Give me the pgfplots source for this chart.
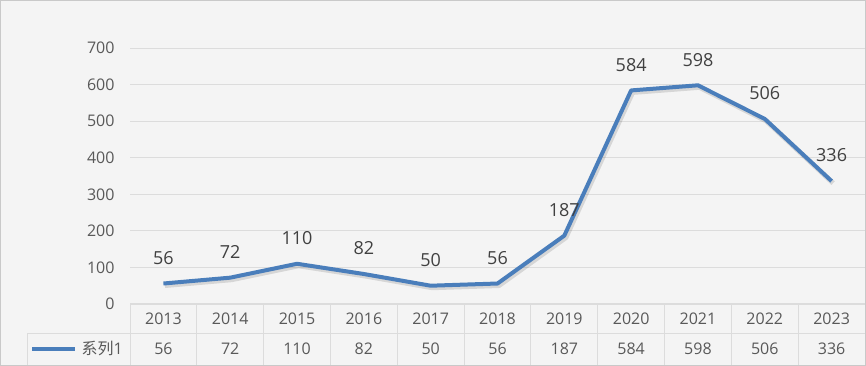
\documentclass[border=0pt]{standalone}
\usepackage{pgfplots}
\pgfplotsset{compat=1.18}
\usepackage{fontspec}
\setmainfont{Open Sans}
\newfontfamily\cjk{Noto Sans CJK SC}
\definecolor{bg}{HTML}{F4F4F4}
\definecolor{gridc}{HTML}{DCDCDC}
\definecolor{txt}{HTML}{595959}
\definecolor{lblue}{HTML}{4A7EBB}
\begin{document}
\begin{tikzpicture}[x=1pt,y=1pt]
\path[use as bounding box] (0,0) rectangle (866,366);
\fill[bg] (0,0) rectangle (866,366);
\begin{axis}[
  at={(130pt,62pt)}, anchor=south west,
  scale only axis, width=735pt, height=256pt,
  xmin=-0.5, xmax=10.5, ymin=0, ymax=700,
  ytick={0,100,...,700},
  xtick={0,...,10},
  xticklabels={2013,2014,2015,2016,2017,2018,2019,2020,2021,2022,2023},
  xticklabel style={anchor=center, yshift=-15pt, text=txt, font=\fontsize{16}{18}\selectfont},
  yticklabel style={text=txt, font=\fontsize{16}{18}\selectfont, xshift=-12pt},
  major tick length=0pt,
  ymajorgrids, grid style={gridc, line width=0.8pt},
  axis line style={draw=none},
  clip=false,
  /pgf/number format/assume math mode=true,
]
\addplot[black, opacity=0.12, line width=5pt, line join=round, mark=none, transform canvas={xshift=1.5pt,yshift=-2pt}] coordinates {
(0,56) (1,72) (2,110) (3,82) (4,50) (5,56) (6,187) (7,584) (8,598) (9,506) (10,336)};
\addplot[lblue, line width=4pt, line join=round, mark=none,
  nodes near coords,
  nodes near coords style={anchor=south, inner sep=0pt, yshift=17pt, text=black!75, font=\fontsize{18}{20}\selectfont}] coordinates {
(0,56) (1,72) (2,110) (3,82) (4,50) (5,56) (6,187) (7,584) (8,598) (9,506) (10,336)};
\end{axis}
% table lines
\pgfmathsetmacro{\cw}{735/11}
\draw[gridc, line width=1pt] (130,62) -- (865,62);
\draw[gridc, line width=1pt] (27,32) -- (865,32);
\foreach \k in {0,...,11} {
  \draw[gridc, line width=1pt] ({130+\k*\cw},62) -- ({130+\k*\cw},0);
}
\draw[gridc, line width=1pt] (27,32) -- (27,0);
\foreach \i/\v in {0/56,1/72,2/110,3/82,4/50,5/56,6/187,7/584,8/598,9/506,10/336} {
  \node[text=txt, font=\fontsize{16}{18}\selectfont] at ({130+(\i+0.5)*\cw},17) {\v};
}
\draw[lblue, line width=4pt] (32,17) -- (75,17);
\node[anchor=east, text=txt, font=\fontsize{16}{18}\selectfont, inner sep=0pt] at (123,17) {{\cjk 系列}1};
\draw[gridc!80!gray, line width=1pt] (0.5,0.5) rectangle (865.5,365.5);
\end{tikzpicture}
\end{document}
